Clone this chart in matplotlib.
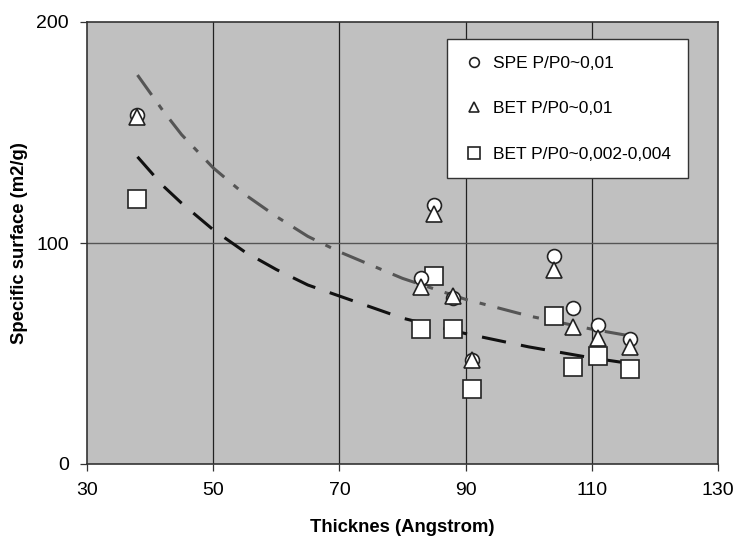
import matplotlib
matplotlib.use("Agg")
import matplotlib.pyplot as plt
import numpy as np

plt.rcParams['font.family'] = ['Liberation Sans', 'DejaVu Sans']

# measured points
thick = [38, 83, 85, 88, 91, 104, 107, 111, 116]
spe_001 = [158, 84, 117, 75, 47, 94, 70.5, 63, 56.5]
bet_001 = [157, 80, 113, 76, 47, 88, 62, 57, 53]
bet_0002 = [120, 61, 85, 61, 34, 67, 44, 49, 43]

# trend curves
trend_x = [38, 42, 45, 50, 55, 60, 65, 70, 80, 90, 100, 110, 116]
trend_upper = [176, 160, 149, 134, 122, 112, 103, 96, 84, 74.5, 67, 61, 58]
trend_lower = [139, 126, 118, 106, 96, 88, 81, 76, 66, 59, 53, 48, 45.5]

x_ticks = [30, 50, 70, 90, 110, 130]
y_ticks = [0, 100, 200]

fig = plt.figure(figsize=(7.36, 5.38), dpi=100)
ax = fig.add_axes([87 / 736, 1 - 464 / 538, (718 - 87) / 736, (464 - 22) / 538])
ax.set_facecolor('#c0c0c0')

for xv in [50, 70, 90, 110]:
    ax.axvline(xv, color='#222222', lw=0.9, zorder=1)
ax.axhline(100, color='#555555', lw=1.0, zorder=1)

ax.plot(trend_x, trend_upper, color='#555555', lw=2.2, dashes=[8, 4, 2, 4], zorder=2)
ax.plot(trend_x, trend_lower, color='#111111', lw=2.2, dashes=[8, 5], zorder=2)

ax.plot(thick, bet_0002, 's', ms=13, mfc='white', mec='#222222', mew=1.2,
        label='BET P/P0~0,002-0,004', zorder=3)
ax.plot(thick, spe_001, 'o', ms=10, mfc='white', mec='#222222', mew=1.2,
        label='SPE P/P0~0,01', zorder=4)
ax.plot(thick, bet_001, '^', ms=11, mfc='white', mec='#222222', mew=1.2,
        label='BET P/P0~0,01', zorder=5)

ax.set_xlim(30, 130)
ax.set_ylim(0, 200)
ax.set_xticks(x_ticks)
ax.set_yticks(y_ticks)
ax.tick_params(direction='out', length=5, width=0.9, color='#333333',
               labelsize=14, pad=8)
for s in ax.spines.values():
    s.set_color('#333333')
    s.set_linewidth(1.2)

ax.set_xlabel('Thicknes (Angstrom)', fontsize=13.3, fontweight='bold', labelpad=14)
ax.set_ylabel('Specific surface (m2/g)', fontsize=13.3, fontweight='bold', labelpad=6)

h, l = ax.get_legend_handles_labels()
order = [1, 2, 0]
leg = ax.legend([h[i] for i in order], [l[i] for i in order],
                loc='upper left', bbox_to_anchor=((447 - 87) / 631, (464 - 39) / 442),
                frameon=True, fancybox=False, fontsize=12.5, markerscale=0.7,
                labelspacing=1.75, borderpad=0.95, handletextpad=0.5,
                handlelength=1.2, borderaxespad=0)
leg.get_frame().set_edgecolor('#333333')
leg.get_frame().set_linewidth(1.0)
leg.get_frame().set_facecolor('white')
leg.get_frame().set_alpha(1)

fig.savefig('out.png', dpi=100)
